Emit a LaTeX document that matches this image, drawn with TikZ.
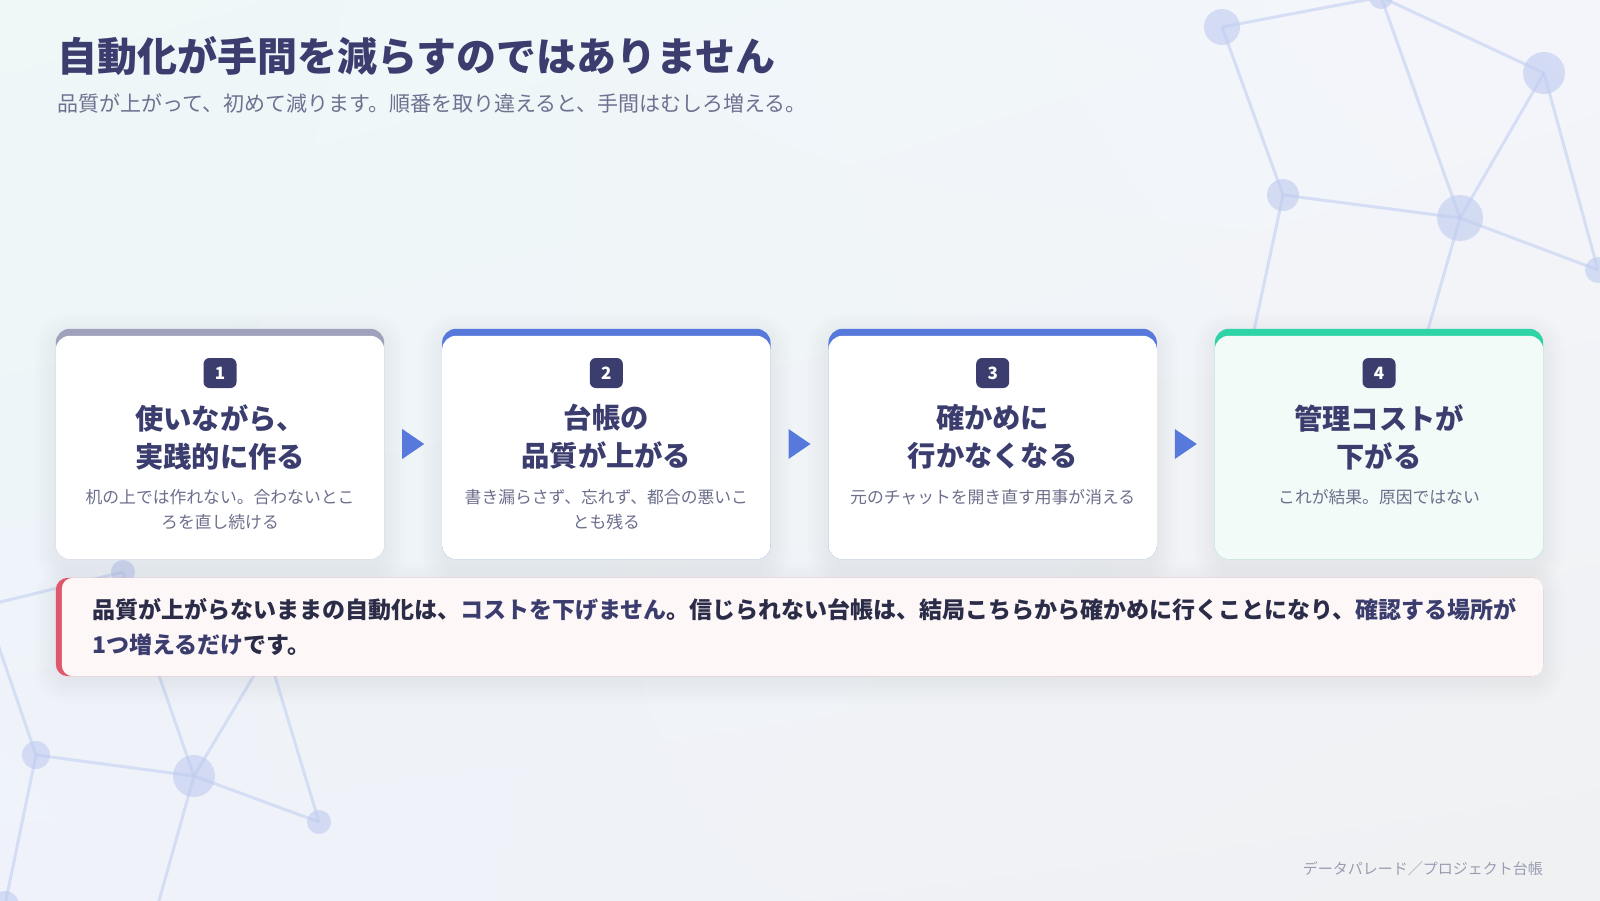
\documentclass[tikz,border=0pt]{standalone}
\usepackage{fontspec}
\setmainfont{Noto Sans CJK JP}
\usetikzlibrary{calc,shadings}
\definecolor{navy}{HTML}{3B3D6E}
\definecolor{subc}{HTML}{6E7190}
\definecolor{descc}{HTML}{6C6F8C}
\definecolor{barg}{HTML}{9EA2BC}
\definecolor{barb}{HTML}{5679DB}
\definecolor{barn}{HTML}{2ED3A6}
\definecolor{mint}{HTML}{F2FBF8}
\definecolor{callbg}{HTML}{FDF7F7}
\definecolor{callred}{HTML}{E0566B}
\definecolor{calltext}{HTML}{2B2C48}
\definecolor{footc}{HTML}{9A9CB2}
\definecolor{netc}{HTML}{C3D0F2}
\definecolor{dotc}{HTML}{BFCBF0}
\definecolor{shadc}{HTML}{3A4070}
\definecolor{bgTL}{HTML}{EDF8F7}
\definecolor{bgTR}{HTML}{F4F5FB}
\definecolor{bgBL}{HTML}{EFF2FA}
\definecolor{bgBR}{HTML}{F0F1F2}
\tikzset{
 netline/.style={draw=netc, line width=3pt, opacity=0.6},
 netdot/.style={circle, fill=dotc, fill opacity=0.6, draw=none, inner sep=0pt, minimum size=#1},
 cardshape/.style={rounded corners=14pt, minimum width=328pt, minimum height=230pt, inner sep=0pt, draw=none},
 badge/.style={fill=navy, rounded corners=6pt, minimum width=33pt, minimum height=30pt, inner sep=0pt, text=white, font=\bfseries\fontsize{17}{17}\selectfont},
 head/.style={text=navy, align=center, font=\bfseries\fontsize{28.3}{38}\selectfont, inner sep=0pt},
 desc/.style={text=descc, align=center, font=\fontsize{16.8}{25}\selectfont, inner sep=0pt},
 tri/.style={fill=barb},
}
% soft shadow around a named rectangular node: #1 node name
\newcommand\softshadow[1]{%
  \foreach \k [evaluate=\k as \r using \k+14] in {0,2,...,22}{%
    \fill[shadc, opacity=0.005, rounded corners=\r pt]
      ([xshift=-\k pt, yshift=-6pt+\k pt]#1.north west) rectangle ([xshift=\k pt, yshift=-6pt-\k pt]#1.south east);
  }%
}
\begin{document}
\begin{tikzpicture}[x=1pt,y=-1pt]
\useasboundingbox (0,0) rectangle (1600,900);
\shade[upper left=bgTL, upper right=bgTR, lower left=bgBL, lower right=bgBR] (0,0) rectangle (1600,900);

% network top right
\coordinate (nA) at (1222,27);
\coordinate (nB) at (1381,-3);
\coordinate (nC) at (1544,73);
\coordinate (nD) at (1283,195);
\coordinate (nE) at (1460,218);
\coordinate (nF) at (1598,270);
\coordinate (nD2) at (1222,480);
\coordinate (nE2) at (1385,480);
\draw[netline] (nA) -- (nB);
\draw[netline] (nB) -- (nC);
\draw[netline] (nB) -- (nE);
\draw[netline] (nA) -- (nD);
\draw[netline] (nD) -- (nE);
\draw[netline] (nE) -- (nC);
\draw[netline] (nC) -- (nF);
\draw[netline] (nE) -- (nF);
\draw[netline] (nD) -- (nD2);
\draw[netline] (nE) -- (nE2);
\node[netdot=36pt] (dA) at (nA) {};
\node[netdot=24pt] (dB) at (nB) {};
\node[netdot=42pt] (dC) at (nC) {};
\node[netdot=32pt] (dD) at (nD) {};
\node[netdot=46pt] (dE) at (nE) {};
\node[netdot=26pt] (dF) at (nF) {};

% network bottom left
\coordinate (nG) at (123,572);
\coordinate (nH) at (36,755);
\coordinate (nI) at (194,776);
\coordinate (nJ) at (319,822);
\coordinate (nK) at (5,905);
\coordinate (nL1) at (-20,607);
\coordinate (nL2) at (-10,621);
\coordinate (nM1) at (155,915);
\coordinate (nN1) at (299,600);
\coordinate (nN2) at (252,600);
\draw[netline] (nG) -- (nL1);
\draw[netline] (nH) -- (nL2);
\draw[netline] (nG) -- (nI);
\draw[netline] (nH) -- (nI);
\draw[netline] (nI) -- (nJ);
\draw[netline] (nH) -- (nK);
\draw[netline] (nI) -- (nM1);
\draw[netline] (nI) -- (nN1);
\draw[netline] (nJ) -- (nN2);
\node[netdot=24pt] (dG) at (nG) {};
\node[netdot=28pt] (dH) at (nH) {};
\node[netdot=42pt] (dI) at (nI) {};
\node[netdot=24pt] (dJ) at (nJ) {};
\node[netdot=28pt] (dK) at (nK) {};

% title
\node[anchor=west, inner sep=0pt, text=navy, font=\bfseries\fontsize{40}{40}\selectfont] (title) at (57,56) {自動化が手間を減らすのではありません};
\node[anchor=west, inner sep=0pt, text=subc, font=\fontsize{21}{21}\selectfont] (sub) at (57,103) {品質が上がって、初めて減ります。順番を取り違えると、手間はむしろ増える。};

% cards (shapes only, for shadows)
\path (220,444) node[cardshape] (c1) {};
\path (606.33,444) node[cardshape] (c2) {};
\path (992.67,444) node[cardshape] (c3) {};
\path (1379,444) node[cardshape] (c4) {};
\path (799.5,627) node[minimum width=1487pt, minimum height=98pt, inner sep=0pt] (co) {};
\softshadow{c1}\softshadow{c2}\softshadow{c3}\softshadow{c4}\softshadow{co}

\fill[barg, rounded corners=14pt] (c1.north west) rectangle (c1.south east);
\fill[white, rounded corners=14pt] ([yshift=-7pt]c1.north west) rectangle (c1.south east);
\node[badge] (b1) at (220,373) {1};
\node[head] (h1) at (220,437) {使いながら、\\実践的に作る};
\node[desc] (d1) at (220,509.5) {机の上では作れない。合わないとこ\\ろを直し続ける};

\fill[barb, rounded corners=14pt] (c2.north west) rectangle (c2.south east);
\fill[white, rounded corners=14pt] ([yshift=-7pt]c2.north west) rectangle (c2.south east);
\node[badge] (b2) at (606.33,373) {2};
\node[head] (h2) at (606.33,437) {台帳の\\品質が上がる};
\node[desc] (d2) at (606.33,509.5) {書き漏らさず、忘れず、都合の悪いこ\\とも残る};

\fill[barb, rounded corners=14pt] (c3.north west) rectangle (c3.south east);
\fill[white, rounded corners=14pt] ([yshift=-7pt]c3.north west) rectangle (c3.south east);
\node[badge] (b3) at (992.67,373) {3};
\node[head] (h3) at (992.67,437) {確かめに\\行かなくなる};
\node[desc] (d3) at (992.67,497) {元のチャットを開き直す用事が消える};

\fill[barn, rounded corners=14pt] (c4.north west) rectangle (c4.south east);
\fill[mint, rounded corners=14pt] ([yshift=-7pt]c4.north west) rectangle (c4.south east);
\node[badge] (b4) at (1379,373) {4};
\node[head] (h4) at (1379,437) {管理コストが\\下がる};
\node[desc] (d4) at (1379,497) {これが結果。原因ではない};

% arrows
\coordinate (a1) at (413.2,444);
\coordinate (a2) at (799.5,444);
\coordinate (a3) at (1185.8,444);
\foreach \a in {a1,a2,a3}{
  \fill[tri] ([xshift=-11pt,yshift=15pt]\a) -- ([xshift=11pt]\a) -- ([xshift=-11pt,yshift=-15pt]\a) -- cycle;
}

% callout
\fill[callred, rounded corners=12pt] (co.north west) rectangle (co.south east);
\fill[callbg, rounded corners=11pt] ([xshift=6pt]co.north west) rectangle (co.south east);
\node[anchor=west, text=calltext, align=left, inner sep=0pt, font=\bfseries\fontsize{23}{35}\selectfont] (ct) at (92,627)
 {品質が上がらないままの自動化は、\textcolor{navy}{コストを下げません}。信じられない台帳は、結局こちらから確かめに行くことになり、\textcolor{navy}{確認する場所が}\\\textcolor{navy}{1つ増えるだけ}です。};

% footer
\node[anchor=east, inner sep=0pt, text=footc, font=\fontsize{15}{15}\selectfont] (foot) at (1543,869) {データパレード／プロジェクト台帳};
\end{tikzpicture}
\end{document}
